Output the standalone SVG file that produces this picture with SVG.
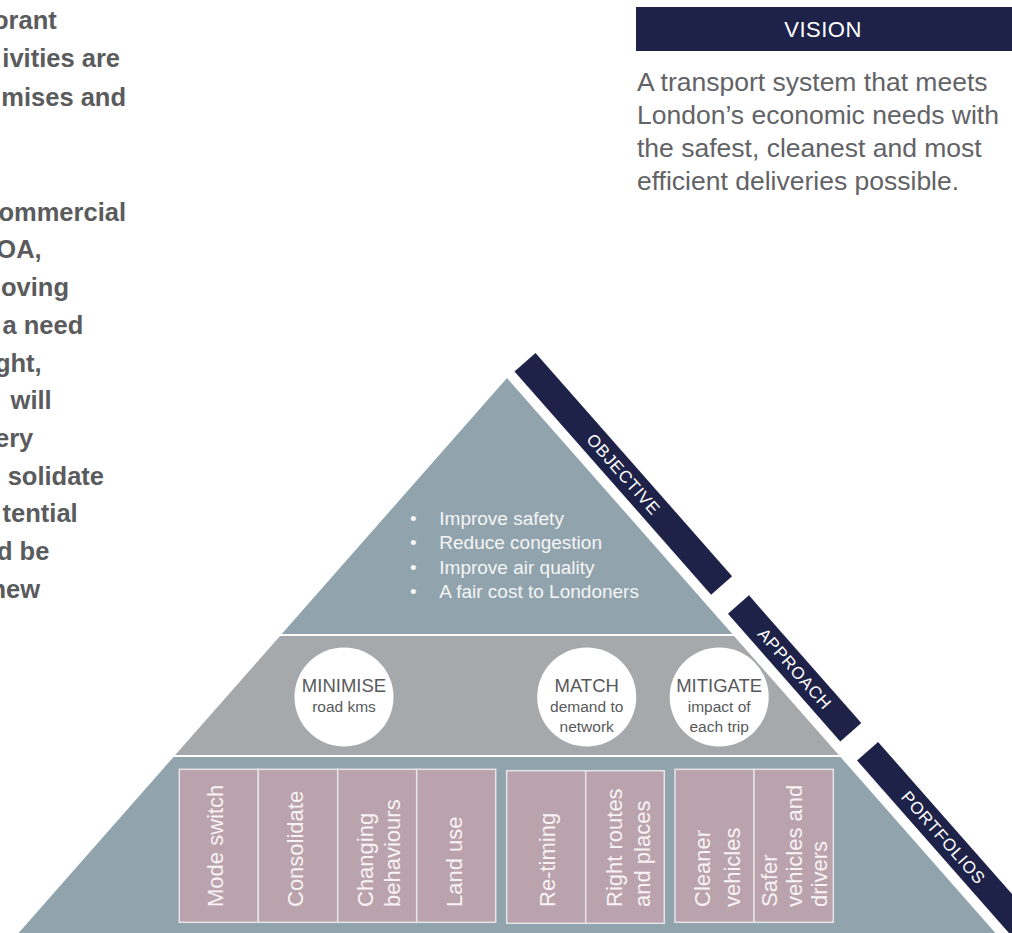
<svg xmlns="http://www.w3.org/2000/svg" width="1012" height="933" viewBox="0 0 1012 933">
<style>
.lt{font-family:"Liberation Sans",Arial,sans-serif;font-weight:bold;font-size:25.5px;fill:#5A5B5D;text-anchor:end}
.vis{font-family:"Liberation Sans",Arial,sans-serif;font-size:26.5px;fill:#626366}
.bul{font-family:"Liberation Sans",Arial,sans-serif;font-size:19px;fill:#F5F5F5}
.ct{font-family:"Liberation Sans",Arial,sans-serif;fill:#58595B;text-anchor:middle}
.big{font-size:18.5px}
.sm{font-size:15.5px}
.bar{fill:#1E2248}
.bt{font-family:"Liberation Sans",Arial,sans-serif;font-size:17px;fill:#FFFFFF;letter-spacing:0.8px;text-anchor:middle}
.box{fill:#BBA3AD;stroke:#E6E4E6;stroke-width:1.5}
.bx{font-family:"Liberation Sans",Arial,sans-serif;font-size:22px;fill:#F7F3F5}
.circ{fill:#FFFFFF}
</style>
<rect width="1012" height="933" fill="#FFFFFF"/>

<g id="intro-text">
<text class="lt" x="56.7" y="29">orant</text>
<text class="lt" x="120" y="67">ivities are</text>
<text class="lt" x="126" y="105.5">mises and</text>
<text class="lt" x="126" y="220.7">ommercial</text>
<text class="lt" x="41.7" y="258.4">OA,</text>
<text class="lt" x="69" y="296.1">oving</text>
<text class="lt" x="83.3" y="333.8">a need</text>
<text class="lt" x="41.7" y="371.5">ght,</text>
<text class="lt" x="51.7" y="409.2">will</text>
<text class="lt" x="33.3" y="446.9">ery</text>
<text class="lt" x="104" y="484.6">solidate</text>
<text class="lt" x="77.7" y="522.3">tential</text>
<text class="lt" x="49.3" y="560">d be</text>
<text class="lt" x="40" y="597.7">new</text>
</g>

<g id="vision">
<rect x="636" y="7" width="376" height="44" fill="#1E2248"/>
<text x="823" y="37" font-family="Liberation Sans,Arial,sans-serif" font-size="22" fill="#FFFFFF" text-anchor="middle" letter-spacing="0.5">VISION</text>
<text class="vis" x="637" y="90.7">A transport system that meets</text>
<text class="vis" x="637" y="123.7">London’s economic needs with</text>
<text class="vis" x="637" y="156.7">the safest, cleanest and most</text>
<text class="vis" x="637" y="189.7">efficient deliveries possible.</text>
</g>

<g id="objective-tier">
<polygon points="507,378 732.3,634 281.7,634" fill="#91A4AE"/>
<text class="bul" x="410" y="525">•</text>
<text class="bul" x="439.3" y="525">Improve safety</text>
<text class="bul" x="410" y="549.3">•</text>
<text class="bul" x="439.3" y="549.3">Reduce congestion</text>
<text class="bul" x="410" y="573.5">•</text>
<text class="bul" x="439.3" y="573.5">Improve air quality</text>
<text class="bul" x="410" y="597.7">•</text>
<text class="bul" x="439.3" y="597.7">A fair cost to Londoners</text>
</g>

<g id="approach-tier">
<polygon points="280,636 734,636 838.8,755 175.2,755" fill="#A6A9AC"/>
<g id="minimise">
<circle class="circ" cx="344" cy="697" r="49.5"/>
<text class="ct big" x="344" y="691.7">MINIMISE</text>
<text class="ct sm" x="344" y="711.7">road kms</text>
</g>
<g id="match">
<circle class="circ" cx="586.7" cy="697" r="49.5"/>
<text class="ct big" x="586.7" y="691.7">MATCH</text>
<text class="ct sm" x="586.7" y="711.7">demand to</text>
<text class="ct sm" x="586.7" y="731.7">network</text>
</g>
<g id="mitigate">
<circle class="circ" cx="719.2" cy="697" r="49.5"/>
<text class="ct big" x="719.2" y="691.7">MITIGATE</text>
<text class="ct sm" x="719.2" y="711.7">impact of</text>
<text class="ct sm" x="719.2" y="731.7">each trip</text>
</g>
</g>

<g id="portfolio-tier">
<polygon points="173.5,757 840.5,757 995.4,933 18.6,933" fill="#91A4AE"/>
<g id="mode-switch">
<rect class="box" x="179.3" y="769.3" width="79" height="153"/>
<text class="bx" transform="translate(223.3,907) rotate(-90)">Mode switch</text>
</g>
<g id="consolidate">
<rect class="box" x="258.3" y="769.3" width="79.4" height="153"/>
<text class="bx" transform="translate(303.3,907) rotate(-90)">Consolidate</text>
</g>
<g id="changing-behaviours">
<rect class="box" x="337.7" y="769.3" width="79" height="153"/>
<text class="bx" transform="translate(372.7,907) rotate(-90)">Changing</text>
<text class="bx" transform="translate(400,907) rotate(-90)">behaviours</text>
</g>
<g id="land-use">
<rect class="box" x="416.7" y="769.3" width="79" height="153"/>
<text class="bx" transform="translate(461.7,907) rotate(-90)">Land use</text>
</g>
<g id="re-timing">
<rect class="box" x="506.7" y="770.7" width="79" height="152.6"/>
<text class="bx" transform="translate(555,907) rotate(-90)">Re-timing</text>
</g>
<g id="right-routes">
<rect class="box" x="585.7" y="770.7" width="78.6" height="152.6"/>
<text class="bx" transform="translate(621.7,907) rotate(-90)">Right routes</text>
<text class="bx" transform="translate(649.5,907) rotate(-90)">and places</text>
</g>
<g id="cleaner-vehicles">
<rect class="box" x="675" y="769.3" width="79" height="153"/>
<text class="bx" transform="translate(710,907) rotate(-90)">Cleaner</text>
<text class="bx" transform="translate(740,907) rotate(-90)">vehicles</text>
</g>
<g id="safer-vehicles">
<rect class="box" x="754" y="769.3" width="79.3" height="153"/>
<text class="bx" transform="translate(777,907) rotate(-90)">Safer</text>
<text class="bx" transform="translate(802,907) rotate(-90)">vehicles and</text>
<text class="bx" transform="translate(827,907) rotate(-90)">drivers</text>
</g>
</g>

<g id="labels" transform="translate(507,378) rotate(48.64)">
<g id="objective-label">
<rect class="bar" x="0" y="-38" width="297.5" height="28"/>
<text class="bt" x="149.2" y="-17.9">OBJECTIVE</text>
</g>
<g id="approach-label">
<rect class="bar" x="323" y="-38" width="170" height="28"/>
<text class="bt" x="408.4" y="-17.9">APPROACH</text>
</g>
<g id="portfolios-label">
<rect class="bar" x="518.4" y="-38" width="260" height="28"/>
<text class="bt" x="633.4" y="-17.9">PORTFOLIOS</text>
</g>
</g>

<g id="connectors"/>
</svg>
